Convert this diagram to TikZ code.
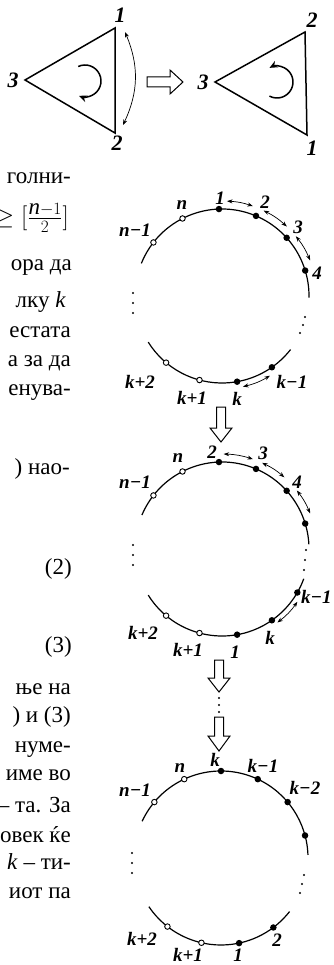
\documentclass[tikz,border=0pt]{standalone}
\usepackage{fontspec}
\setmainfont{Liberation Serif}
\usetikzlibrary{positioning,calc,arrows.meta}

\begin{document}
\begin{tikzpicture}[x=1pt,y=1pt,
  trianglepen/.style={line width=1.5pt, line join=miter},
  arcline/.style={line width=1.2pt},
  dotfull/.style={circle, fill=black, inner sep=0pt, minimum size=6.5pt},
  dotopen/.style={circle, draw=black, fill=white, inner sep=0pt, minimum size=5.5pt, line width=0.9pt},
  vdot/.style={circle, fill=black, inner sep=0pt, minimum size=2.4pt},
  lbl/.style={font=\fontsize{19}{19}\selectfont\bfseries\itshape, inner sep=0pt},
  tlbl/.style={font=\fontsize{22}{22}\selectfont\bfseries\itshape, inner sep=0pt},
  txt/.style={font=\fontsize{23}{29}\selectfont, anchor=mid east, inner sep=0pt},
  dblarrow/.style={line width=0.7pt, {Stealth[length=5.5pt,width=4pt]}-{Stealth[length=5.5pt,width=4pt]}},
  spinarrow/.style={line width=1.5pt, -{Stealth[length=8pt,width=7pt]}},
  hollowpen/.style={line width=1pt, line join=miter, fill=white},
]
\fill[white] (0,0) rectangle (333,-965);
\useasboundingbox (0,0) rectangle (333,-965);

% top: the two triangles
\coordinate (t1c) at (25,-80);
\coordinate (t1a) at (115,-28);
\coordinate (t1b) at (115,-133);
\draw[trianglepen] (t1a) -- (t1c) -- (t1b) -- cycle;
\node[tlbl] (t1la) at (120,-15) {1};
\node[tlbl] (t1lb) at (117,-143) {2};
\node[tlbl] (t1lc) at (13,-80) {3};
\coordinate (o1) at (85,-81);
\draw[spinarrow] ($(o1)+(115:16)$) arc[start angle=115, end angle=-112, radius=16];
\coordinate (s1) at (125,-32);
\coordinate (s2) at (123,-125);
\draw[dblarrow] (s1) to[bend left=24] (s2);

% hollow arrow to the right
\draw[hollowpen] (147,-77) -- (170,-77) -- (170,-70) -- (183,-82) -- (170,-94) -- (170,-87) -- (147,-87) -- cycle;

\coordinate (t2c) at (215,-82);
\coordinate (t2a) at (305,-32);
\coordinate (t2b) at (307,-135);
\draw[trianglepen] (t2a) -- (t2c) -- (t2b) -- cycle;
\node[tlbl] (t2la) at (312,-20) {2};
\node[tlbl] (t2lb) at (312,-148) {1};
\node[tlbl] (t2lc) at (203,-82) {3};
\coordinate (o2) at (277,-82);
\draw[spinarrow] ($(o2)+(-118:16)$) arc[start angle=-118, end angle=118, radius=16];

% left text column (cut off)
\node[txt] (t01) at (71,-181) {голни-};
\node[txt] (t02) at (69,-222) {$\geq[\frac{\textit{n}-1}{2}]$};
\node[txt] (t03) at (72,-268) {ора да};
\node[txt] (t04) at (66,-305) {лку \textit{k}};
\node[txt] (t05) at (71,-335) {естата};
\node[txt] (t06) at (71,-364) {а за да};
\node[txt] (t07) at (71,-393) {енува-};
\node[txt] (t08) at (70,-472) {) нао-};
\node[txt] (t09) at (72,-572) {(2)};
\node[txt] (t10) at (72,-650) {(3)};
\node[txt] (t11) at (71,-692) {ње на};
\node[txt] (t12) at (71,-720) {) и (3)};
\node[txt] (t13) at (71,-750) {нуме-};
\node[txt] (t14) at (71,-778) {име во};
\node[txt] (t15) at (71,-810) {– та. За};
\node[txt] (t16) at (71,-840) {овек ќе};
\node[txt] (t17) at (71,-867) {\textit{k} – ти-};
\node[txt] (t18) at (71,-896) {иот па};

% circle 1
\coordinate (c1) at (222,-296);
\draw[arcline] ($(c1)+(158:87)$) arc[start angle=158, end angle=-1, radius=87];
\draw[arcline] ($(c1)+(-148:87)$) arc[start angle=-148, end angle=-38, radius=87];
\foreach \a/\s/\nm in {142/dotopen/nmm, 117/dotopen/nn, 92/dotfull/p1, 67/dotfull/p2,
  42/dotfull/p3, 17/dotfull/p4, -130/dotopen/kpp, -105/dotopen/kp, -80/dotfull/k, -55/dotfull/km}
  \node[\s] (c1-\nm) at ($(c1)+(\a:87)$) {};
\foreach \nm/\x/\y/\t in {nmm/135/230/{n−1}, nn/182/205/{n}, p1/220/198/{1}, p2/265/202/{2},
  p3/298/227/{3}, p4/317/273/{4}, kpp/140/382/{k+2}, kp/192/398/{k+1}, k/237/399/{k}, km/292/382/{k−1}}
  \node[lbl] (c1l-\nm) at (\x,-\y) {\t};
\foreach \i/\a/\b in {12/87/71, 23/64/47, 34/39/22} {
  \coordinate (c1s\i) at ($(c1)+(\a:95)$);
  \coordinate (c1e\i) at ($(c1)+(\b:95)$);
  \draw[dblarrow] (c1s\i) to[bend left=8] (c1e\i);
}
\coordinate (c1sk) at ($(c1)+(-77:93)$);
\coordinate (c1ek) at ($(c1)+(-59:93)$);
\draw[dblarrow] (c1sk) to[bend right=9] (c1ek);
\foreach \j/\x/\y in {1/133/293, 2/133/303, 3/133/313, 4/305/317, 5/303/325, 6/300/333}
  \node[vdot] (c1v\j) at (\x,-\y) {};

% hollow arrows downwards
\foreach \cx/\ya/\yb/\yc in {221/407/428/442, 219/660/678/692, 219/717/736/751}
  \draw[hollowpen] ({\cx-4.5},-\ya) -- ({\cx+4.5},-\ya) -- ({\cx+4.5},-\yb) -- ({\cx+11},-\yb)
    -- (\cx,-\yc) -- ({\cx-11},-\yb) -- ({\cx-4.5},-\yb) -- cycle;
\foreach \j/\y in {1/698, 2/705, 3/712}
  \node[vdot] (hv\j) at (219,-\y) {};

% circle 2
\coordinate (c2) at (222,-549);
\draw[arcline] ($(c2)+(157:87)$) arc[start angle=157, end angle=3, radius=87];
\draw[arcline] ($(c2)+(-148:87)$) arc[start angle=-148, end angle=-20, radius=87];
\foreach \a/\s/\nm in {142/dotopen/nmm, 117/dotopen/nn, 92/dotfull/p2, 67/dotfull/p3,
  42/dotfull/p4, 17/dotfull/p5, -130/dotopen/kpp, -105/dotopen/kp, -80/dotfull/p1, -55/dotfull/k, -30/dotfull/km}
  \node[\s] (c2-\nm) at ($(c2)+(\a:87)$) {};
\foreach \nm/\x/\y/\t in {nmm/135/482/{n−1}, nn/178/458/{n}, p2/212/452/{2}, p3/263/453/{3},
  p4/297/482/{4}, kpp/143/633/{k+2}, kp/188/650/{k+1}, p1/235/652/{1}, k/270/638/{k}}
  \node[lbl] (c2l-\nm) at (\x,-\y) {\t};
\node[lbl, anchor=west] (c2l-km) at (301,-597) {k−1};
\foreach \i/\a/\b in {23/89/71, 34/65/49, 45/38/22} {
  \coordinate (c2s\i) at ($(c2)+(\a:95)$);
  \coordinate (c2e\i) at ($(c2)+(\b:95)$);
  \draw[dblarrow] (c2s\i) to[bend left=8] (c2e\i);
}
\coordinate (c2sk) at ($(c2)+(-53:92)$);
\coordinate (c2ek) at ($(c2)+(-35:92)$);
\draw[dblarrow] (c2sk) to[bend right=9] (c2ek);
\foreach \j/\x/\y in {1/133/545, 2/133/555, 3/133/565, 4/306/550, 5/305/560, 6/304/570}
  \node[vdot] (c2v\j) at (\x,-\y) {};

% circle 3
\coordinate (c3) at (221,-858);
\draw[arcline] ($(c3)+(155:87)$) arc[start angle=155, end angle=2, radius=87];
\draw[arcline] ($(c3)+(-146:87)$) arc[start angle=-146, end angle=-38, radius=87];
\foreach \a/\s/\nm in {140/dotopen/nmm, 115/dotopen/nn, 90/dotfull/k, 65/dotfull/km,
  40/dotfull/kmm, 15/dotfull/kx, -128/dotopen/kpp, -103/dotopen/kp, -78/dotfull/p1, -53/dotfull/p2}
  \node[\s] (c3-\nm) at ($(c3)+(\a:87)$) {};
\foreach \nm/\x/\y/\t in {nmm/135/790/{n−1}, nn/180/768/{n}, k/215/760/{k}, km/263/766/{k−1},
  kmm/305/788/{k−2}, kpp/142/939/{k+2}, kp/188/955/{k+1}, p1/238/955/{1}, p2/277/940/{2}}
  \node[lbl] (c3l-\nm) at (\x,-\y) {\t};
\foreach \j/\x/\y in {1/132/853, 2/132/863, 3/132/873, 4/304/875, 5/302/884, 6/300/893}
  \node[vdot] (c3v\j) at (\x,-\y) {};
\end{tikzpicture}
\end{document}
